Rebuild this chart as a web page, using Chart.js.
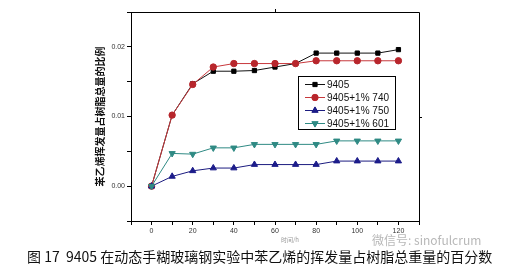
<!DOCTYPE html>
<html>
<head>
<meta charset="utf-8">
<script src="https://cdn.jsdelivr.net/npm/chart.js@4.4.1/dist/chart.umd.min.js"></script>
<style>
  html, body { margin: 0; padding: 0; background: #fff; }
  #wrap { position: relative; width: 508px; height: 268px; overflow: hidden; }
  #caption { position: absolute; left: 27px; top: 248px; font: 14px "Noto Sans CJK SC", sans-serif; color: #111; white-space: nowrap; line-height: 16px; }
  #mark { position: absolute; left: 372px; top: 233px; font: 12px "Noto Sans CJK SC", sans-serif; color: #b8b8b8; white-space: nowrap; line-height: 14px; }
</style>
</head>
<body>
<div id="wrap">
  <canvas id="c" width="508" height="268"></canvas>
  <div id="mark">微信号: sinofulcrum</div>
  <div id="caption">图 17&nbsp; 9405 在动态手糊玻璃钢实验中苯乙烯的挥发量占树脂总重量的百分数</div>
</div>
<script>
// 时间 (x)
const tiempos = [0, 10, 20, 30, 40, 50, 60, 70, 80, 90, 100, 110, 120];
// series
const s9405 = [0, 0.0102, 0.0147, 0.0165, 0.0165, 0.0166, 0.0171, 0.0176, 0.0191, 0.0191, 0.0191, 0.0191, 0.0196];
const s740  = [0, 0.0102, 0.0146, 0.0171, 0.0176, 0.0176, 0.0176, 0.0176, 0.0180, 0.0180, 0.0180, 0.0180, 0.0180];
const s750  = [0, 0.0014, 0.0022, 0.0026, 0.0026, 0.0031, 0.0031, 0.0031, 0.0031, 0.0036, 0.0036, 0.0036, 0.0036];
const s601  = [0, 0.0047, 0.0046, 0.0055, 0.0055, 0.0060, 0.0060, 0.0060, 0.0060, 0.0065, 0.0065, 0.0065, 0.0065];
const nombres = ["9405", "9405+1% 740", "9405+1% 750", "9405+1% 601"];
const yTitulo = "苯乙烯挥发量占树脂总量的比例";
const xTitulo = "时间/h";

const pts = arr => tiempos.map((t, i) => ({ x: t, y: arr[i] }));

const estilos = [
  { line: "#111111", point: "#000000", style: "rect", rot: 0, r: 3 },
  { line: "#c8383c", point: "#b8262c", style: "circle", rot: 0, r: 3.2 },
  { line: "#1c1c80", point: "#1c1c8a", style: "triangle", rot: 0, r: 3.6 },
  { line: "#2f8a84", point: "#2f8a84", style: "triangle", rot: 180, r: 3.6 }
];

const datos = [s9405, s740, s750, s601];

const marco = {
  id: "marco",
  afterDraw(chart) {
    const ctx = chart.ctx, a = chart.chartArea;
    ctx.save();
    ctx.strokeStyle = "#000";
    ctx.lineWidth = 1;
    ctx.beginPath();
    ctx.moveTo(a.left, a.top + 0.5);
    ctx.lineTo(a.right + 0.5, a.top + 0.5);
    ctx.lineTo(a.right + 0.5, a.bottom);
    ctx.stroke();
    // small mirror ticks
    const xs = chart.scales.x, ys = chart.scales.y;
    ctx.beginPath();
    ctx.moveTo(Math.round(xs.getPixelForValue(60)) + 0.5, a.top);
    ctx.lineTo(Math.round(xs.getPixelForValue(60)) + 0.5, a.top - 3);
    ctx.moveTo(a.right, Math.round(ys.getPixelForValue(0.01)) + 0.5);
    ctx.lineTo(a.right + 3, Math.round(ys.getPixelForValue(0.01)) + 0.5);
    ctx.stroke();

    // y title
    ctx.fillStyle = "#111";
    ctx.font = "bold 10px 'Noto Sans CJK SC'";
    ctx.textAlign = "center";
    ctx.textBaseline = "middle";
    ctx.save();
    ctx.translate(100, (a.top + a.bottom) / 2);
    ctx.rotate(-Math.PI / 2);
    ctx.fillText(yTitulo, 0, 0);
    ctx.restore();
    // x title
    ctx.fillStyle = "#999";
    ctx.font = "6px 'Noto Sans CJK SC'";
    ctx.fillText(xTitulo, 290, 240);

    // legend
    const bx = 298, by = 76, bw = 97, bh = 53;
    ctx.fillStyle = "#fff";
    ctx.fillRect(bx, by, bw, bh);
    ctx.strokeStyle = "#000";
    ctx.strokeRect(bx + 0.5, by + 0.5, bw, bh);
    ctx.font = "10px 'Liberation Sans'";
    ctx.textAlign = "left";
    nombres.forEach((n, i) => {
      const yy = 84 + i * 13;
      const e = estilos[i];
      ctx.strokeStyle = e.line;
      ctx.lineWidth = 1;
      ctx.beginPath();
      ctx.moveTo(305, yy + 0.5);
      ctx.lineTo(325, yy + 0.5);
      ctx.stroke();
      ctx.fillStyle = e.point;
      Chart.helpers.drawPoint(ctx, { pointStyle: e.style, radius: e.r, rotation: e.rot, borderWidth: 1 }, 315, yy + 0.5);
      ctx.fill();
      ctx.fillStyle = "#111";
      ctx.fillText(n, 327, yy + 1);
    });
    ctx.restore();
  }
};

new Chart(document.getElementById("c").getContext("2d"), {
  type: "line",
  data: {
    datasets: datos.map((d, i) => ({
      label: nombres[i],
      data: pts(d),
      borderColor: estilos[i].line,
      backgroundColor: estilos[i].point,
      pointBackgroundColor: estilos[i].point,
      pointBorderColor: estilos[i].point,
      pointStyle: estilos[i].style,
      pointRotation: estilos[i].rot,
      pointRadius: estilos[i].r,
      borderWidth: 1,
      tension: 0
    })).reverse()
  },
  options: {
    responsive: false,
    animation: false,
    layout: { padding: { left: 0, top: 12, right: 89, bottom: 0 } },
    plugins: { legend: { display: false }, tooltip: { enabled: false } },
    scales: {
      x: {
        type: "linear", min: -10, max: 130,
        afterFit: s => { s.height = 47; },
        border: { display: true, color: "#000", width: 1 },
        grid: { display: true, drawOnChartArea: false, drawTicks: true, tickLength: 4, color: "#000" },
        ticks: {
          stepSize: 10, autoSkip: false, maxRotation: 0, padding: 2,
          color: "#333", font: { size: 7, family: "Liberation Sans" },
          callback: v => (v >= 0 && v <= 120 && v % 20 === 0) ? String(v) : ""
        }
      },
      y: {
        min: -0.005, max: 0.025,
        afterFit: s => { s.width = 131; },
        border: { display: true, color: "#000", width: 1 },
        grid: { display: true, drawOnChartArea: false, drawTicks: true, tickLength: 4, color: "#000" },
        ticks: {
          stepSize: 0.005, autoSkip: false, padding: 2,
          color: "#333", font: { size: 7, family: "Liberation Sans" },
          callback: v => {
            const k = Math.round(v * 1000);
            return (k >= 0 && k <= 20 && k % 10 === 0) ? (k / 1000).toFixed(2) : "";
          }
        }
      }
    }
  },
  plugins: [marco]
});
</script>
</body>
</html>
